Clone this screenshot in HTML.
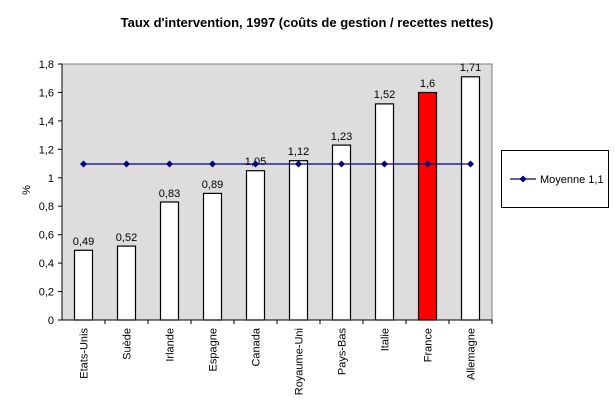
<!DOCTYPE html>
<html><head><meta charset="utf-8"><style>
html,body{margin:0;padding:0;background:#fff;}
svg{display:block;font-family:"Liberation Sans",Arial,sans-serif;}
</style></head><body>
<svg width="615" height="409" viewBox="0 0 615 409" xmlns="http://www.w3.org/2000/svg">
<rect x="0" y="0" width="615" height="409" fill="#fff"/>
<text x="307" y="27" font-size="13" font-weight="bold" text-anchor="middle">Taux d'intervention, 1997 (coûts de gestion / recettes nettes)</text>
<rect x="62" y="64" width="430" height="256" fill="#dddddd" stroke="#808080" stroke-width="1"/>
<g stroke="#000" stroke-width="1.2">
<rect x="74.5" y="250.3" width="18" height="69.7" fill="#fff"/>
<rect x="117.5" y="246.1" width="18" height="73.9" fill="#fff"/>
<rect x="160.5" y="202" width="18" height="118" fill="#fff"/>
<rect x="203.5" y="193.4" width="18" height="126.6" fill="#fff"/>
<rect x="246.5" y="170.7" width="18" height="149.3" fill="#fff"/>
<rect x="289.5" y="160.7" width="18" height="159.3" fill="#fff"/>
<rect x="332.5" y="145.1" width="18" height="174.9" fill="#fff"/>
<rect x="375.5" y="103.9" width="18" height="216.1" fill="#fff"/>
<rect x="418.5" y="92.5" width="18" height="227.5" fill="#ff0000"/>
<rect x="461.5" y="76.8" width="18" height="243.2" fill="#fff"/>
</g>
<g font-size="11" text-anchor="middle">
<text x="83.5" y="245">0,49</text>
<text x="126.5" y="241">0,52</text>
<text x="169.5" y="197">0,83</text>
<text x="212.5" y="188">0,89</text>
<text x="255.5" y="165">1,05</text>
<text x="298.5" y="155">1,12</text>
<text x="341.5" y="140">1,23</text>
<text x="384.5" y="98">1,52</text>
<text x="427.5" y="87">1,6</text>
<text x="470.5" y="71">1,71</text>
</g>
<line x1="62" y1="64" x2="62" y2="320" stroke="#000"/>
<line x1="62" y1="320" x2="492" y2="320" stroke="#000"/>
<g stroke="#000">
<line x1="58" y1="64" x2="62" y2="64"/><line x1="58" y1="92.4" x2="62" y2="92.4"/>
<line x1="58" y1="120.9" x2="62" y2="120.9"/><line x1="58" y1="149.3" x2="62" y2="149.3"/>
<line x1="58" y1="177.8" x2="62" y2="177.8"/><line x1="58" y1="206.2" x2="62" y2="206.2"/>
<line x1="58" y1="234.7" x2="62" y2="234.7"/><line x1="58" y1="263.1" x2="62" y2="263.1"/>
<line x1="58" y1="291.6" x2="62" y2="291.6"/><line x1="58" y1="320" x2="62" y2="320"/>
<line x1="105" y1="320" x2="105" y2="324"/><line x1="148" y1="320" x2="148" y2="324"/>
<line x1="191" y1="320" x2="191" y2="324"/><line x1="234" y1="320" x2="234" y2="324"/>
<line x1="277" y1="320" x2="277" y2="324"/><line x1="320" y1="320" x2="320" y2="324"/>
<line x1="363" y1="320" x2="363" y2="324"/><line x1="406" y1="320" x2="406" y2="324"/>
<line x1="449" y1="320" x2="449" y2="324"/><line x1="492" y1="320" x2="492" y2="324"/>
</g>
<g font-size="11" text-anchor="end">
<text x="54" y="68">1,8</text><text x="54" y="96.4">1,6</text>
<text x="54" y="124.9">1,4</text><text x="54" y="153.3">1,2</text>
<text x="54" y="181.8">1</text><text x="54" y="210.2">0,8</text>
<text x="54" y="238.7">0,6</text><text x="54" y="267.1">0,4</text>
<text x="54" y="295.6">0,2</text><text x="54" y="324">0</text>
</g>
<text transform="translate(30,190) rotate(-90)" font-size="11" text-anchor="middle">%</text>
<g font-size="11" text-anchor="end">
<text transform="translate(87.5,328) rotate(-90)">Etats-Unis</text>
<text transform="translate(130.5,328) rotate(-90)">Suède</text>
<text transform="translate(173.5,328) rotate(-90)">Irlande</text>
<text transform="translate(216.5,328) rotate(-90)">Espagne</text>
<text transform="translate(259.5,328) rotate(-90)">Canada</text>
<text transform="translate(302.5,328) rotate(-90)">Royaume-Uni</text>
<text transform="translate(345.5,328) rotate(-90)">Pays-Bas</text>
<text transform="translate(388.5,328) rotate(-90)">Italie</text>
<text transform="translate(431.5,328) rotate(-90)">France</text>
<text transform="translate(474.5,328) rotate(-90)">Allemagne</text>
</g>
<line x1="83.5" y1="164" x2="470.5" y2="164" stroke="#000080" stroke-width="1.2"/>
<g fill="#000080">
<path d="M83.5 160.5l3.5 3.5-3.5 3.5-3.5-3.5z"/>
<path d="M126.5 160.5l3.5 3.5-3.5 3.5-3.5-3.5z"/>
<path d="M169.5 160.5l3.5 3.5-3.5 3.5-3.5-3.5z"/>
<path d="M212.5 160.5l3.5 3.5-3.5 3.5-3.5-3.5z"/>
<path d="M255.5 160.5l3.5 3.5-3.5 3.5-3.5-3.5z"/>
<path d="M298.5 160.5l3.5 3.5-3.5 3.5-3.5-3.5z"/>
<path d="M341.5 160.5l3.5 3.5-3.5 3.5-3.5-3.5z"/>
<path d="M384.5 160.5l3.5 3.5-3.5 3.5-3.5-3.5z"/>
<path d="M427.5 160.5l3.5 3.5-3.5 3.5-3.5-3.5z"/>
<path d="M470.5 160.5l3.5 3.5-3.5 3.5-3.5-3.5z"/>
</g>
<rect x="501.5" y="150.5" width="107" height="57" fill="#fff" stroke="#000"/>
<line x1="510" y1="179" x2="536" y2="179" stroke="#000080" stroke-width="1.2"/>
<path d="M523 175.5l3.5 3.5-3.5 3.5-3.5-3.5z" fill="#000080"/>
<text x="540" y="183" font-size="11">Moyenne 1,1</text>
</svg>
</body></html>
